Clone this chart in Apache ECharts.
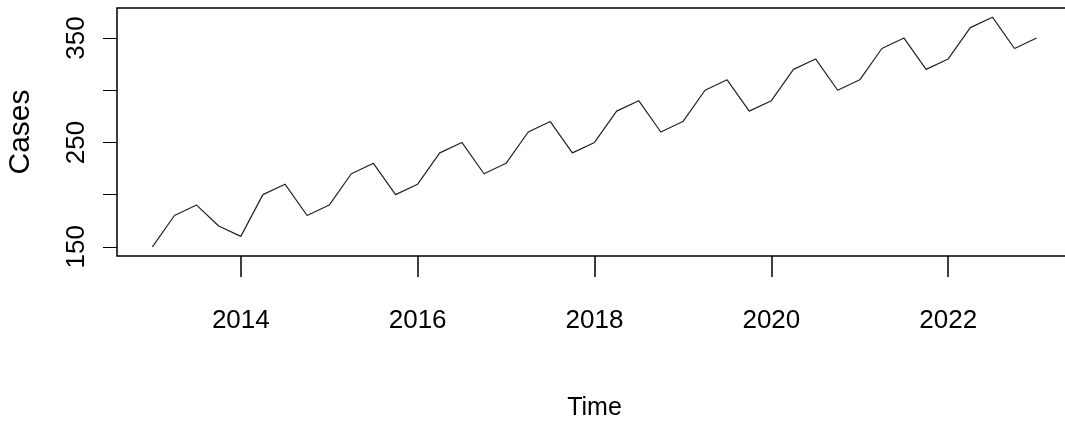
<!DOCTYPE html>
<html>
<head>
<meta charset="utf-8">
<script src="https://cdn.jsdelivr.net/npm/echarts@6/dist/echarts.min.js"></script>
<style>
  html, body { margin: 0; padding: 0; background: #fff; }
  #chart { width: 1065px; height: 431px; }
</style>
</head>
<body>
<div id="chart"></div>
<script>
// Quarterly case counts, starting 2013 Q1
const startYear = 2013;
const frequency = 4;
const cases = [
  150, 180, 190, 170,
  160, 200, 210, 180,
  190, 220, 230, 200,
  210, 240, 250, 220,
  230, 260, 270, 240,
  250, 280, 290, 260,
  270, 300, 310, 280,
  290, 320, 330, 300,
  310, 340, 350, 320,
  330, 360, 370, 340,
  350
];
const xTickValues = [2014, 2016, 2018, 2020, 2022];
const yTickValues = [150, 200, 250, 300, 350];
const yLabelValues = [150, 250, 350];

// time index of each observation (start + k / frequency)
const seriesData = cases.map((v, k) => [startYear + k / frequency, v]);

// axis limits padded 4% beyond the data range on each side
const tMin = startYear, tMax = startYear + (cases.length - 1) / frequency;
const vMin = Math.min(...cases), vMax = Math.max(...cases);
const tPad = (tMax - tMin) * 0.04, vPad = (vMax - vMin) * 0.04;

const textFont = '"Liberation Sans", Arial, sans-serif';

const chart = echarts.init(document.getElementById('chart'), null, { renderer: 'canvas' });
chart.setOption({
  backgroundColor: '#ffffff',
  animation: false,
  grid: {
    left: 117, width: 955, top: 8, height: 248,
    outerBoundsMode: 'none',
    containLabel: false,
    show: true, borderColor: '#000', borderWidth: 1.5, backgroundColor: 'transparent'
  },
  xAxis: {
    type: 'value',
    min: tMin - tPad, max: tMax + tPad,
    name: 'Time',
    nameLocation: 'middle',
    nameGap: 152,
    nameTextStyle: {
      fontFamily: textFont, fontSize: 25, color: '#000', verticalAlign: 'middle'
    },
    axisLine: { show: false },
    splitLine: { show: false },
    axisTick: {
      show: true, customValues: xTickValues, length: 21, inside: false,
      lineStyle: { color: '#000', width: 1.5 }
    },
    axisLabel: {
      customValues: xTickValues,
      margin: 65,
      verticalAlign: 'middle',
      fontFamily: textFont, fontSize: 26, color: '#000',
      formatter: v => String(Math.round(v))
    }
  },
  yAxis: {
    type: 'value',
    min: vMin - vPad, max: vMax + vPad,
    name: 'Cases',
    nameLocation: 'middle',
    nameGap: 96,
    nameRotate: 90,
    nameTextStyle: {
      fontFamily: textFont, fontSize: 30, color: '#000', verticalAlign: 'middle'
    },
    axisLine: { show: false },
    splitLine: { show: false },
    axisTick: {
      show: true, customValues: yTickValues, length: 14, inside: false,
      lineStyle: { color: '#000', width: 1 }
    },
    axisLabel: {
      customValues: yLabelValues,
      rotate: 90,
      margin: 40,
      align: 'center',
      verticalAlign: 'middle',
      fontFamily: textFont, fontSize: 26, color: '#000'
    }
  },
  series: [{
    type: 'line',
    data: seriesData,
    showSymbol: false,
    symbol: 'none',
    lineStyle: { color: '#222', width: 1.2 },
    silent: true
  }]
});
</script>
</body>
</html>
